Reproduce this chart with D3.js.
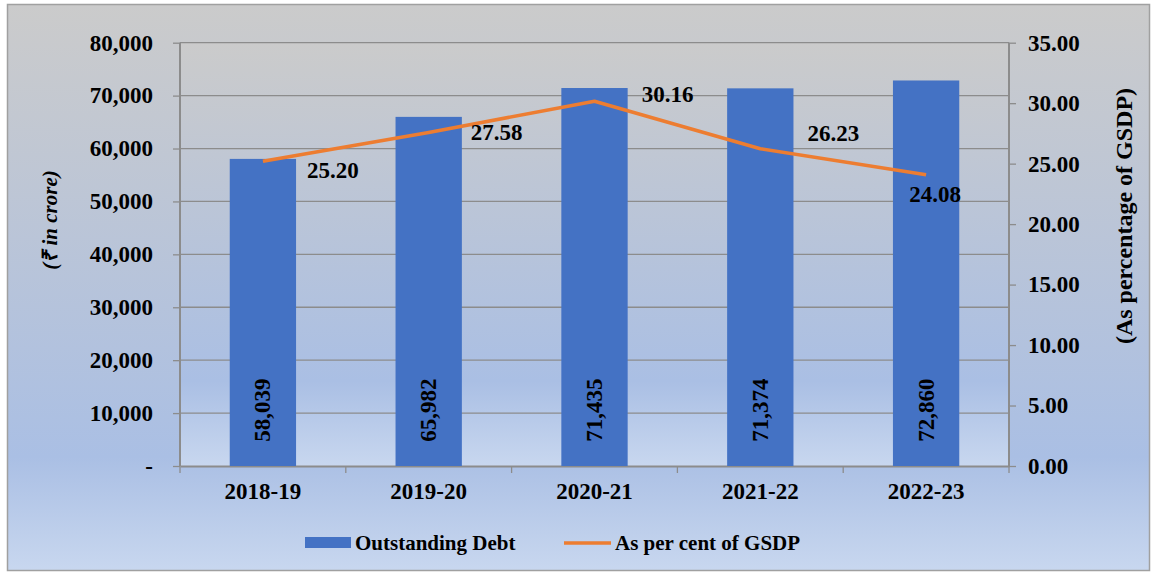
<!DOCTYPE html>
<html>
<head>
<meta charset="utf-8">
<script src="https://cdn.jsdelivr.net/npm/d3@7"></script>
<style>
  body { margin: 0; background: #fff; }
  text { font-family: "Times New Roman", "Liberation Serif", serif; font-weight: bold; fill: #000; }
</style>
</head>
<body>
<svg id="chart" width="1153" height="573"></svg>
<script>
const width = 1153, height = 573;

const years = ["2018-19", "2019-20", "2020-21", "2021-22", "2022-23"];
const debt = [58039, 65982, 71435, 71374, 72860];
const pctGsdp = [25.20, 27.58, 30.16, 26.23, 24.08];
const leftTicks = [0, 10000, 20000, 30000, 40000, 50000, 60000, 70000, 80000];
const rightTicks = [0, 5, 10, 15, 20, 25, 30, 35];
// hand placed label offsets for the line labels (dx, dy)
const pctLabelShift = [[70, 9], [68, 0], [73, -7], [73, -15], [9, 20]];

const margin = { left: 180, right: 1009, top: 42.7, bottom: 466 };

const svg = d3.select("#chart");
const defs = svg.append("defs");

function grad(id) {
  const lg = defs.append("linearGradient").attr("id", id)
    .attr("x1", 0).attr("y1", 0).attr("x2", 0).attr("y2", 1);
  lg.append("stop").attr("offset", "0%").attr("stop-color", "#cbcbcb");
  lg.append("stop").attr("offset", "80%").attr("stop-color", "#aabfe4");
  lg.append("stop").attr("offset", "100%").attr("stop-color", "#c8d7ef");
}
grad("outerBg");
grad("plotBg");

// chart area
svg.append("rect")
  .attr("x", 7.5).attr("y", 4.5)
  .attr("width", 1142).attr("height", 566)
  .attr("fill", "url(#outerBg)")
  .attr("stroke", "#a0a0a0").attr("stroke-width", 1.5);

svg.append("rect")
  .attr("x", margin.left).attr("y", margin.top)
  .attr("width", margin.right - margin.left)
  .attr("height", margin.bottom - margin.top)
  .attr("fill", "url(#plotBg)");

const x = d3.scaleBand().domain(years)
  .range([margin.left, margin.right])
  .paddingInner(0.6).paddingOuter(0.3);

const yL = d3.scaleLinear().domain([0, 80000]).range([margin.bottom, margin.top]);
const yR = d3.scaleLinear().domain([0, 35]).range([margin.bottom, margin.top]);

const axisColor = "#8c8c8c";

// gridlines
svg.append("g").selectAll("line")
  .data(leftTicks.slice(1))
  .enter().append("line")
  .attr("x1", margin.left).attr("x2", margin.right)
  .attr("y1", d => yL(d)).attr("y2", d => yL(d))
  .attr("stroke", axisColor).attr("stroke-width", 1.3);

// left axis
const leftAxis = svg.append("g")
  .attr("transform", `translate(${margin.left},0)`)
  .call(d3.axisLeft(yL).tickValues(leftTicks).tickSize(7).tickPadding(20)
    .tickFormat(d => d === 0 ? "-" : d3.format(",")(d)));

// right axis
const rightAxis = svg.append("g")
  .attr("transform", `translate(${margin.right},0)`)
  .call(d3.axisRight(yR).tickValues(rightTicks).tickSize(7).tickPadding(12)
    .tickFormat(d3.format(".2f")));

// bottom axis, ticks at band boundaries
const bottomAxis = svg.append("g")
  .attr("transform", `translate(0,${margin.bottom})`)
  .call(d3.axisBottom(x).tickSize(0).tickPadding(17));

const bounds = d3.range(years.length + 1).map(i => margin.left + i * x.step());
svg.append("g").selectAll("line")
  .data(bounds)
  .enter().append("line")
  .attr("x1", d => d).attr("x2", d => d)
  .attr("y1", margin.bottom).attr("y2", margin.bottom + 7)
  .attr("stroke", axisColor).attr("stroke-width", 1.3);

[leftAxis, rightAxis, bottomAxis].forEach(a => {
  a.select(".domain").attr("stroke", axisColor).attr("stroke-width", 2);
  a.selectAll(".tick line").attr("stroke", axisColor).attr("stroke-width", 1.3);
  a.selectAll(".tick text")
    .style("font-family", "'Times New Roman', 'Liberation Serif', serif")
    .style("font-weight", "bold")
    .style("font-size", "23px")
    .attr("fill", "#000");
});
leftAxis.selectAll(".domain").attr("d", `M0,${margin.top}V${margin.bottom}`);
rightAxis.selectAll(".domain").attr("d", `M0,${margin.top}V${margin.bottom}`);

// bars
svg.append("g").selectAll("rect")
  .data(debt)
  .enter().append("rect")
  .attr("x", (d, i) => x(years[i]))
  .attr("width", x.bandwidth())
  .attr("y", d => yL(d))
  .attr("height", d => yL(0) - yL(d))
  .attr("fill", "#4472c4");

// bar labels
svg.append("g").selectAll("text")
  .data(debt)
  .enter().append("text")
  .attr("transform", (d, i) => `translate(${x(years[i]) + x.bandwidth() / 2},${yL(0) - 56}) rotate(-90)`)
  .attr("text-anchor", "middle")
  .attr("dominant-baseline", "central")
  .style("font-size", "23px")
  .text(d => d3.format(",")(d));

// line
const line = d3.line()
  .x((d, i) => x(years[i]) + x.bandwidth() / 2)
  .y(d => yR(d));

svg.append("path")
  .datum(pctGsdp)
  .attr("d", line)
  .attr("fill", "none")
  .attr("stroke", "#ed7d31")
  .attr("stroke-width", 3.5)
  .attr("stroke-linejoin", "round");

svg.append("g").selectAll("text")
  .data(pctGsdp)
  .enter().append("text")
  .attr("x", (d, i) => x(years[i]) + x.bandwidth() / 2 + pctLabelShift[i][0])
  .attr("y", (d, i) => yR(d) + pctLabelShift[i][1])
  .attr("text-anchor", "middle")
  .attr("dominant-baseline", "central")
  .style("font-size", "23px")
  .text(d => d.toFixed(2));

// axis titles
svg.append("text")
  .attr("transform", "translate(50,220) rotate(-90)")
  .attr("text-anchor", "middle")
  .attr("dominant-baseline", "central")
  .style("font-size", "21px")
  .style("font-style", "italic")
  .text("(₹ in crore)");

svg.append("text")
  .attr("transform", "translate(1124,216) rotate(-90)")
  .attr("text-anchor", "middle")
  .attr("dominant-baseline", "central")
  .style("font-size", "24px")
  .text("(As percentage of GSDP)");

// legend
const legend = svg.append("g");
legend.append("rect")
  .attr("x", 305).attr("y", 537).attr("width", 46).attr("height", 11)
  .attr("fill", "#4472c4");
legend.append("text")
  .attr("x", 355).attr("y", 543)
  .attr("dominant-baseline", "central")
  .style("font-size", "21px")
  .text("Outstanding Debt");
legend.append("line")
  .attr("x1", 564).attr("x2", 611).attr("y1", 543).attr("y2", 543)
  .attr("stroke", "#ed7d31").attr("stroke-width", 3.5);
legend.append("text")
  .attr("x", 615).attr("y", 543)
  .attr("dominant-baseline", "central")
  .style("font-size", "21px")
  .text("As per cent of GSDP");
</script>
</body>
</html>
